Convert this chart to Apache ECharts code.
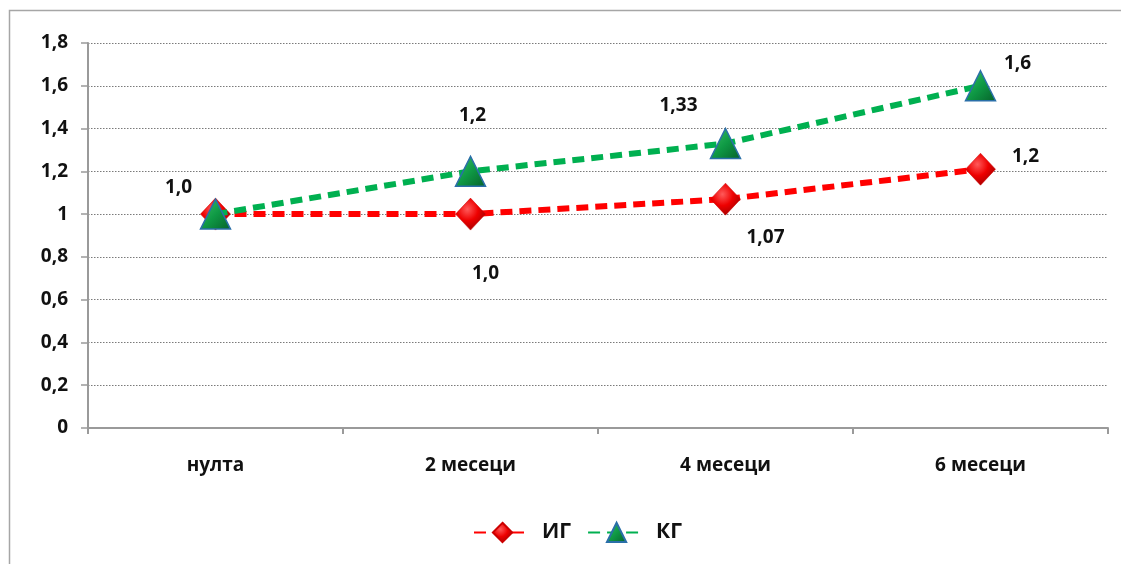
<!DOCTYPE html>
<html>
<head>
<meta charset="utf-8">
<script src="https://cdn.jsdelivr.net/npm/echarts@6/dist/echarts.min.js"></script>
<style>html,body{margin:0;padding:0;background:#fff}#c{width:1121px;height:564px}</style>
</head>
<body>
<div id="c"></div>
<script>
var categories = ['нулта', '2 месеци', '4 месеци', '6 месеци'];
var igValues = [1.0, 1.0, 1.07, 1.21];
var kgValues = [1.0, 1.2, 1.33, 1.6];
var igLabels = ['1,0', '1,0', '1,07', '1,2'];
var kgLabels = ['', '1,2', '1,33', '1,6'];
var yTicks = ['0', '0,2', '0,4', '0,6', '0,8', '1', '1,2', '1,4', '1,6', '1,8'];

var FONT = '"Open Sans", "Noto Sans", sans-serif';
var chart = echarts.init(document.getElementById('c'), null, {renderer: 'canvas'});

var igOffsets = [[-37, -27], [15, 59], [40, 38], [45, -13]];
var kgOffsets = [[0, 0], [2, -56], [-47, -38], [37, -22]];

function diamondColor() {
  return new echarts.graphic.RadialGradient(0.4, 0.35, 0.7, [
    {offset: 0, color: '#ff5a5a'}, {offset: 0.5, color: '#ee0000'}, {offset: 1, color: '#a00000'}
  ]);
}
function triColor() {
  return new echarts.graphic.LinearGradient(0, 0, 1, 1, [
    {offset: 0, color: '#3fbf6a'}, {offset: 0.5, color: '#0f9a45'}, {offset: 1, color: '#06602a'}
  ]);
}

var labelStyle = {fontFamily: FONT, fontWeight: 'bold', fontSize: 19, color: '#111'};

var igData = igValues.map(function (v, i) {
  return {value: v, label: {show: !!igLabels[i], formatter: igLabels[i], position: 'inside', offset: igOffsets[i]}};
});
var kgData = kgValues.map(function (v, i) {
  return {value: v, label: {show: !!kgLabels[i], formatter: kgLabels[i], position: 'inside', offset: kgOffsets[i]}};
});

chart.setOption({
  animation: false,
  backgroundColor: '#fff',
  graphic: [{
    type: 'rect', shape: {x: 9.5, y: 10.5, width: 1200, height: 700},
    style: {fill: 'none', stroke: '#a6a6a6', lineWidth: 1.5}, silent: true, z: -1
  }],
  grid: {left: 88, right: 13, top: 43, bottom: 136, containLabel: false},
  legend: {
    bottom: 16, left: 468, itemWidth: 57, itemHeight: 24, itemGap: 16,
    textStyle: {fontFamily: FONT, fontWeight: 'bold', fontSize: 21, color: '#111', padding: [0, 0, 0, 6]},
    data: ['ИГ', 'КГ']
  },
  xAxis: {
    type: 'category', data: categories, boundaryGap: true,
    axisLine: {lineStyle: {color: '#9a9a9a', width: 2}},
    axisTick: {show: true, length: 6, lineStyle: {color: '#9a9a9a', width: 2}},
    axisLabel: {fontFamily: FONT, fontWeight: 'bold', fontSize: 19, color: '#111', margin: 28}
  },
  yAxis: {
    type: 'value', min: 0, max: 1.8, interval: 0.2,
    axisLine: {show: true, lineStyle: {color: '#9a9a9a', width: 2}},
    axisTick: {show: true, length: 7, lineStyle: {color: '#9a9a9a', width: 1.5}},
    splitLine: {show: true, lineStyle: {color: '#7a7a7a', type: [1.5, 1.5], width: 1}},
    axisLabel: {
      fontFamily: FONT, fontWeight: 'bold', fontSize: 19, color: '#111', margin: 20,
      formatter: function (v) { return yTicks[Math.round(v / 0.2)]; }
    }
  },
  series: [{
    name: 'ИГ', type: 'line', data: igData, z: 3,
    symbol: 'diamond', symbolSize: [30, 32],
    lineStyle: {color: '#ff0000', width: 6, type: [12, 7]},
    itemStyle: {color: diamondColor(), borderColor: '#cc0000', borderWidth: 0.5},
    label: labelStyle
  }, {
    name: 'КГ', type: 'line', data: kgData, z: 4,
    symbol: 'triangle', symbolSize: [30, 30],
    lineStyle: {color: '#00b050', width: 6, type: [12, 7]},
    itemStyle: {color: triColor(), borderColor: '#2a6fa8', borderWidth: 1.5},
    label: labelStyle
  }]
});
</script>
</body>
</html>
